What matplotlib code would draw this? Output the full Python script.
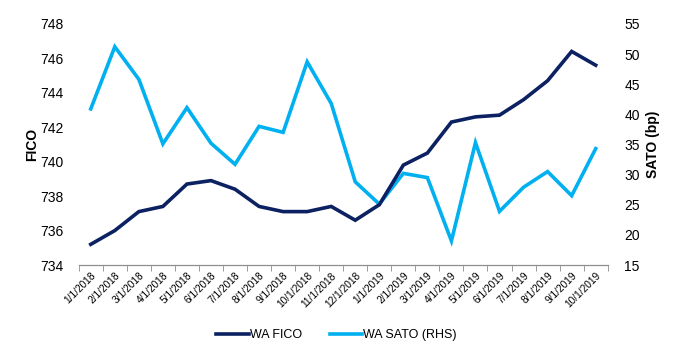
import matplotlib
matplotlib.use("Agg")
import matplotlib.pyplot as plt
from matplotlib.lines import Line2D

plt.rcParams['font.family'] = ['Liberation Sans', 'DejaVu Sans']

months = ['1/1/2018', '2/1/2018', '3/1/2018', '4/1/2018', '5/1/2018', '6/1/2018',
          '7/1/2018', '8/1/2018', '9/1/2018', '10/1/2018', '11/1/2018', '12/1/2018',
          '1/1/2019', '2/1/2019', '3/1/2019', '4/1/2019', '5/1/2019', '6/1/2019',
          '7/1/2019', '8/1/2019', '9/1/2019', '10/1/2019']
wa_fico = [735.2, 736.0, 737.1, 737.4, 738.7, 738.9, 738.4, 737.4, 737.1, 737.1,
           737.4, 736.6, 737.5, 739.8, 740.5, 742.3, 742.6, 742.7, 743.6, 744.7,
           746.4, 745.6]
wa_sato = [40.9, 51.2, 45.8, 35.1, 41.1, 35.2, 31.7, 38.0, 37.0, 48.7,
           41.8, 28.8, 25.1, 30.2, 29.5, 19.0, 35.3, 23.9, 27.9, 30.5,
           26.5, 34.3]

navy = '#0c2161'
sky = '#00b0f0'

fig = plt.figure(figsize=(6.73, 3.51), dpi=100)
ax = fig.add_axes([0.117, 0.245, 0.786, 0.687])
ax2 = ax.twinx()

x = list(range(len(months)))
ax.plot(x, wa_fico, color=navy, lw=2.6, solid_joinstyle='miter', zorder=3)
ax2.plot(x, wa_sato, color=sky, lw=2.6, solid_joinstyle='miter', zorder=2)
ax.set_zorder(ax2.get_zorder() + 1)
ax.patch.set_visible(False)

ax.set_xlim(-0.5, len(months) - 0.5)
ax.set_ylim(734, 748)
ax.set_yticks(range(734, 749, 2))
ax2.set_ylim(15, 55)
ax2.set_yticks(range(15, 56, 5))

for a in (ax, ax2):
    for s in ('top', 'left', 'right'):
        a.spines[s].set_visible(False)
    a.spines['bottom'].set_color('#8c8c8c')
    a.tick_params(axis='y', length=0, labelsize=10, colors='black')
ax.tick_params(axis='y', pad=11)
ax2.tick_params(axis='y', pad=12)

ax.set_xticks(x)
ax.set_xticklabels(months, rotation=45, ha='right', rotation_mode='anchor', fontsize=7.3)
ax.tick_params(axis='x', which='major', length=0, pad=4)
ax.set_xticks([i - 0.5 for i in range(len(months) + 1)], minor=True)
ax.tick_params(axis='x', which='minor', length=4, color='#8c8c8c')

ax.set_ylabel('FICO', fontsize=10, fontweight='bold', labelpad=1)
ax2.set_ylabel('SATO (bp)', fontsize=10, fontweight='bold', labelpad=4)

handles = [Line2D([], [], color=navy, lw=2.6), Line2D([], [], color=sky, lw=2.6)]
fig.legend(handles, ['WA FICO', 'WA SATO (RHS)'], loc='center', bbox_to_anchor=(0.5, 0.045),
           ncol=2, frameon=False, fontsize=9, handlelength=2.6, handletextpad=0.1,
           columnspacing=2.2)

fig.savefig('out.png', dpi=100)
